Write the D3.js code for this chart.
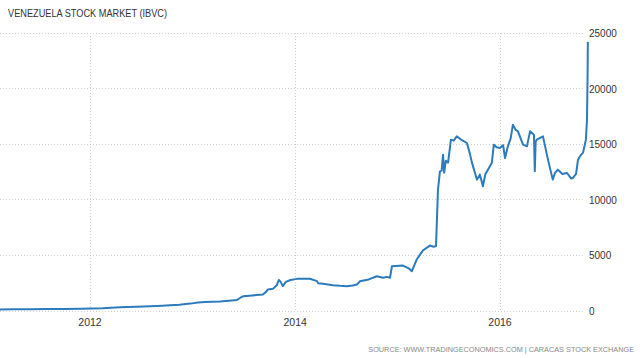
<!DOCTYPE html>
<html>
  <head>
    <meta charset="utf-8" />
    <title>Venezuela Stock Market</title>
    <script src="https://d3js.org/d3.v7.min.js"></script>
    <style>
      body {
        margin: 0;
        background: #fff;
      }
      text {
        font-family: "Liberation Sans", Arial, sans-serif;
      }
    </style>
  </head>
  <body>

    <svg id="viz"></svg>

    <script>

      // IBVC index
      var dates = [
        "2011-02-14", "2011-04-01", "2011-06-01", "2011-08-01", "2011-10-01", "2011-12-01",
        "2012-01-01", "2012-02-15", "2012-04-17", "2012-05-10", "2012-06-15", "2012-08-01",
        "2012-09-15", "2012-10-12", "2012-11-15", "2012-12-23", "2013-01-20", "2013-02-14",
        "2013-03-10", "2013-04-08", "2013-05-10", "2013-06-08", "2013-06-20", "2013-06-29",
        "2013-08-01", "2013-09-08", "2013-09-20", "2013-09-26", "2013-10-14", "2013-10-28",
        "2013-11-04", "2013-11-10", "2013-11-18", "2013-11-29", "2013-12-15", "2014-01-08",
        "2014-02-23", "2014-03-20", "2014-03-24", "2014-04-10", "2014-05-16", "2014-06-10",
        "2014-07-04", "2014-07-25", "2014-08-09", "2014-08-20", "2014-09-20", "2014-10-19",
        "2014-11-10", "2014-11-24", "2014-12-05", "2014-12-12", "2015-01-20", "2015-02-10",
        "2015-02-21", "2015-03-10", "2015-04-01", "2015-04-26", "2015-05-10", "2015-05-18",
        "2015-05-25", "2015-06-01", "2015-06-07", "2015-06-12", "2015-06-16", "2015-06-22",
        "2015-06-30", "2015-07-10", "2015-07-20", "2015-07-31", "2015-08-15", "2015-09-05",
        "2015-09-15", "2015-09-23", "2015-10-05", "2015-10-11", "2015-10-21", "2015-10-26",
        "2015-11-01", "2015-11-10", "2015-11-19", "2015-12-03", "2015-12-10", "2015-12-20",
        "2016-01-01", "2016-01-12", "2016-01-19", "2016-01-29", "2016-02-08", "2016-02-16",
        "2016-02-25", "2016-03-05", "2016-03-23", "2016-04-06", "2016-04-17", "2016-05-01",
        "2016-05-04", "2016-05-07", "2016-05-11", "2016-06-02", "2016-06-20", "2016-07-07",
        "2016-07-15", "2016-07-25", "2016-08-10", "2016-08-27", "2016-09-10", "2016-09-17",
        "2016-09-28", "2016-10-05", "2016-10-15", "2016-10-23", "2016-11-02", "2016-11-06",
        "2016-11-08", "2016-11-09"
      ];

      var values = [
        100, 105, 115, 125, 140, 160,
        170, 200, 300, 320, 340, 380,
        430, 470, 520, 620, 720, 760,
        780, 800, 880, 950, 1150, 1280,
        1350, 1450, 1700, 1900, 1950, 2300,
        2750, 2600, 2200, 2580, 2750, 2850,
        2860, 2650, 2450, 2400, 2280, 2220,
        2190, 2250, 2340, 2640, 2800, 3090,
        2950, 3030, 2950, 3990, 4050, 3800,
        3540, 4590, 5400, 5850, 5750, 5800,
        10890, 12540, 12600, 14040, 12420, 13500,
        13320, 15390, 15300, 15690, 15400, 15090,
        14200, 13320, 12300, 11790, 12240, 11800,
        11190, 12300, 12690, 13320, 14940, 14700,
        14640, 14900, 13740, 14790, 15500, 16740,
        16300, 16140, 14940, 14790, 16140, 15840,
        12540, 15200, 15390, 15690, 13590, 11790,
        12400, 12690, 12300, 12390, 11900, 11940,
        12300, 13590, 14000, 14220, 15390, 17190,
        21000, 24200
      ];

      var yTicks = [0, 5000, 10000, 15000, 20000, 25000];
      var xTicks = ["2012-01-01", "2014-01-01", "2016-01-01"];
      var xTickLabels = ["2012", "2014", "2016"];

      var width = 640;
      var height = 358;

      var parse = d3.timeParse("%Y-%m-%d");

      var data = dates.map(function(d, i) {
        return { date: parse(d), value: values[i] };
      });

      var svg = d3.select("#viz")
        .attr("width", width)
        .attr("height", height);

      var x = d3.scaleTime()
        .domain([parse("2012-01-01"), parse("2016-01-01")])
        .range([90, 500]);

      var y = d3.scaleLinear()
        .domain([0, 25000])
        .range([310.5, 33]);

      var plotRight = 585;

      // title
      svg.append("text")
        .attr("x", 8)
        .attr("y", 17)
        .attr("font-size", "10.5px")
        .attr("fill", "#333")
        .attr("textLength", 159)
        .attr("lengthAdjust", "spacingAndGlyphs")
        .text("VENEZUELA STOCK MARKET (IBVC)");

      // horizontal grid
      svg.append("g")
        .selectAll("line")
        .data(yTicks)
        .enter().append("line")
        .attr("x1", 0)
        .attr("x2", plotRight)
        .attr("y1", function(d) { return Math.round(y(d)) + 0.5; })
        .attr("y2", function(d) { return Math.round(y(d)) + 0.5; })
        .attr("stroke", "#cfcfcf")
        .attr("stroke-dasharray", "1,2");

      // vertical grid
      svg.append("g")
        .selectAll("line")
        .data(xTicks)
        .enter().append("line")
        .attr("x1", function(d) { return Math.round(x(parse(d))) + 0.5; })
        .attr("x2", function(d) { return Math.round(x(parse(d))) + 0.5; })
        .attr("y1", y(25000))
        .attr("y2", y(0))
        .attr("stroke", "#cfcfcf")
        .attr("stroke-dasharray", "1,2");

      // y labels
      svg.append("g")
        .selectAll("text")
        .data(yTicks)
        .enter().append("text")
        .attr("x", 589)
        .attr("y", function(d) { return y(d) + 4; })
        .attr("font-size", "10px")
        .attr("fill", "#333")
        .text(function(d) { return d; });

      // x labels
      svg.append("g")
        .selectAll("text")
        .data(xTicks)
        .enter().append("text")
        .attr("x", function(d) { return x(parse(d)); })
        .attr("y", 326)
        .attr("text-anchor", "middle")
        .attr("font-size", "10.5px")
        .attr("fill", "#333")
        .text(function(d, i) { return xTickLabels[i]; });

      // series
      var line = d3.line()
        .x(function(d) { return x(d.date); })
        .y(function(d) { return y(d.value); });

      svg.append("path")
        .datum(data)
        .attr("d", line)
        .attr("fill", "none")
        .attr("stroke", "#2c7bbd")
        .attr("stroke-width", 2)
        .attr("stroke-linejoin", "round");

      // source
      svg.append("text")
        .attr("x", 634)
        .attr("y", 352)
        .attr("text-anchor", "end")
        .attr("font-size", "7.3px")
        .attr("fill", "#888")
        .text("SOURCE: WWW.TRADINGECONOMICS.COM | CARACAS STOCK EXCHANGE");

    </script>
  </body>
</html>
